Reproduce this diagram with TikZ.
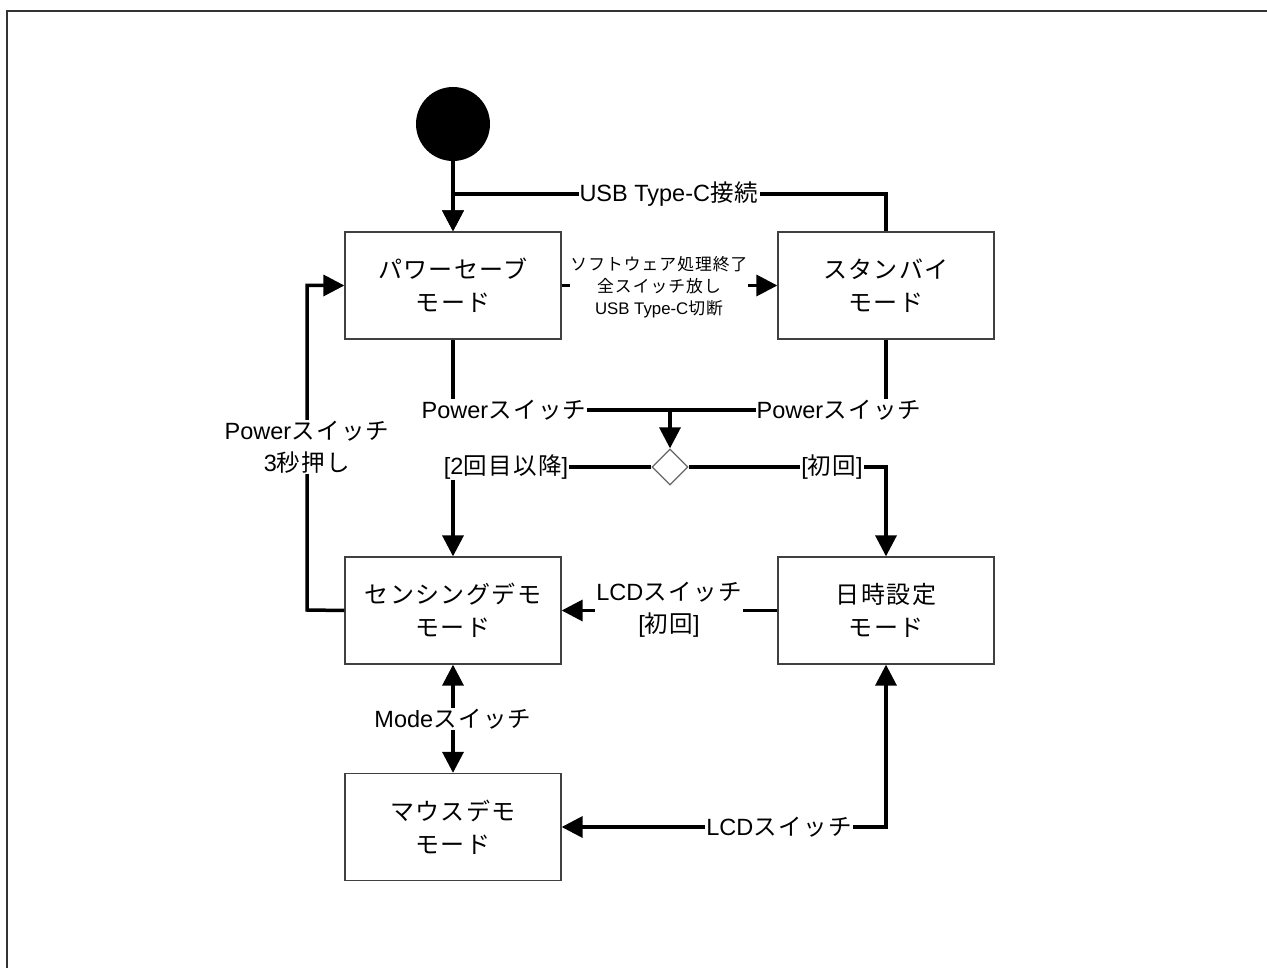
\documentclass[tikz,border=0pt]{standalone}
\usepackage{fontspec}
\setmainfont{Liberation Sans}
\newfontfamily\jp{Noto Sans CJK JP}[Scale=1.0,LetterSpace=6]
\usetikzlibrary{arrows.meta,shapes.geometric}
\begin{document}
\begin{tikzpicture}[x=1pt,y=-1pt,
  statebox/.style={draw=black!75,line width=1.3pt,minimum width=216pt,minimum height=107pt,align=center,inner sep=0pt,
    font=\fontsize{24}{33}\selectfont\jp},
  conn/.style={line width=3.5pt,-{Triangle[length=21pt,width=21pt]}},
  plain/.style={line width=3.5pt},
  lbl/.style={fill=white,inner sep=1pt,align=center,font=\fontsize{23.5}{32}\selectfont},
  slbl/.style={fill=white,inner sep=1pt,align=center,font=\fontsize{16.8}{22}\selectfont}]
\useasboundingbox (0,0) rectangle (1267,968);
\draw[line width=2pt,black!80] (7,968) -- (7,11) -- (1267,11);
\node[circle,fill=black,minimum size=74pt,inner sep=0pt] (init) at (453,124) {};
\node[statebox] (ps) at (453,285.5) {パワーセーブ\\モード};
\node[statebox] (sb) at (886,285.5) {スタンバイ\\モード};
\node[statebox] (sd) at (453,610.5) {センシングデモ\\モード};
\node[statebox] (dt) at (886,610.5) {日時設定\\モード};
\node[statebox] (md) at (453,827) {マウスデモ\\モード};
\node[diamond,draw=black!60,fill=white,line width=1.3pt,minimum width=36pt,minimum height=36pt,inner sep=0pt] (dm) at (670,467) {};
\coordinate (jn) at (670,410);
% initial -> power save
\draw[conn] (init.south) -- (ps.north);
\draw[conn] (sb.north) -- (886,194) -- (453,194) -- (ps.north);
\node[lbl] (l1) at (669,194) {USB Type-C{\jp 接続}};
% power save -> standby
\draw[conn] (ps.east) -- (sb.east-|sb.west);
\node[slbl,inner sep=0pt] (l2) at (659,287) {\jp ソフトウェア処理終了\\\jp 全スイッチ放し\\USB Type-C{\jp 切断}};
% power switch to junction
\draw[plain] (ps.south) -- (453,410) -- (jn);
\draw[plain] (sb.south) -- (886,410) -- (jn);
\node[lbl] (l3) at (504,410) {Power{\jp スイッチ}};
\node[lbl] (l4) at (839,410) {Power{\jp スイッチ}};
\draw[conn] (jn) -- (dm.north);
% diamond branches
\draw[conn] (dm.west) -- (453,467) -- (sd.north);
\draw[conn] (dm.east) -- (886,467) -- (dt.north);
\node[lbl] (l5) at (506,467) {[2{\jp 回目以降}]};
\node[lbl] (l6) at (832,467) {[{\jp 初回}]};
% date -> sensing
\draw[conn] (dt.west) -- (sd.east);
\node[lbl] (l7) at (669,610) {LCD{\jp スイッチ}\\{}[{\jp 初回}]};
% sensing -> power save
\draw[conn] (sd.west) -- (307,610) -- (307,285.5) -- (ps.west);
\node[lbl] (l8) at (307,447) {Power{\jp スイッチ}\\3{\jp 秒押し}};
% sensing <-> mouse
\draw[line width=3.5pt,{Triangle[length=21pt,width=21pt]}-{Triangle[length=21pt,width=21pt]}] (sd.south) -- (md.north);
\node[lbl] (l9) at (453,719) {Mode{\jp スイッチ}};
% mouse <-> date
\draw[line width=3.5pt,{Triangle[length=21pt,width=21pt]}-{Triangle[length=21pt,width=21pt]}] (md.east) -- (886,827) -- (dt.south);
\node[lbl] (l10) at (779,827) {LCD{\jp スイッチ}};
\end{tikzpicture}
\end{document}
